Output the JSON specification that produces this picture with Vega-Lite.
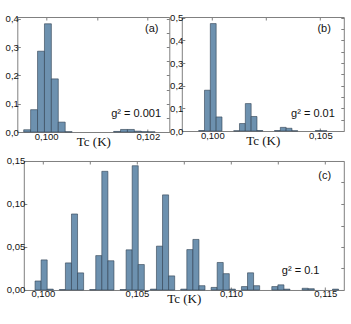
{
  "$schema": "https://vega.github.io/schema/vega-lite/v6.json",
  "padding": {"left": 4.3, "top": 12, "right": 2, "bottom": 2},
  "columns": 1,
  "align": "none",
  "config": {
    "view": {"stroke": "#808080", "strokeWidth": 1},
    "axis": {"domain": false, "grid": false, "tickColor": "#808080", "tickSize": -3, "labelFont": "Liberation Sans", "labelFontSize": 9.5, "labelColor": "#111", "labelPadding": 2, "titleFont": "Liberation Serif", "titleFontSize": 13, "titleFontWeight": "normal", "titleColor": "#111"},
    "text": {"font": "Liberation Sans", "fontSize": 11, "color": "#111"},
    "rect": {"fill": "#6d91af", "stroke": "#2f4050", "strokeWidth": 0.6}
  },
  "concat": [
    {
      "bounds": "flush",
      "spacing": 12.5,
      "hconcat": [
        {
          "width": 152, "height": 115,
          "resolve": {"axis": {"x": "independent", "y": "independent"}},
          "layer": [
            {
              "data": {"values": [
                {"x0": 0.09956, "x1": 0.099696, "f": 0.008},
                {"x0": 0.099696, "x1": 0.099832, "f": 0.079},
                {"x0": 0.099832, "x1": 0.099968, "f": 0.286},
                {"x0": 0.099968, "x1": 0.100104, "f": 0.383},
                {"x0": 0.100104, "x1": 0.10024, "f": 0.188},
                {"x0": 0.10024, "x1": 0.100376, "f": 0.035},
                {"x0": 0.100376, "x1": 0.100512, "f": 0.001},
                {"x0": 0.101328, "x1": 0.101464, "f": 0.002},
                {"x0": 0.101464, "x1": 0.1016, "f": 0.009},
                {"x0": 0.1016, "x1": 0.101736, "f": 0.009},
                {"x0": 0.101736, "x1": 0.101872, "f": 0.003},
                {"x0": 0.101872, "x1": 0.102008, "f": 0.001},
                {"x0": 0.102008, "x1": 0.102144, "f": 0.0005}
              ]},
              "mark": {"type": "rect"},
              "encoding": {
                "x": {"field": "x0", "type": "quantitative", "scale": {"domain": [0.099434, 0.102423], "nice": false, "zero": false},
                  "axis": {"orient": "bottom", "values": [0.1, 0.102], "labelExpr": "replace(format(datum.value, '.3f'), '.', ',')", "title": "Tc (K)", "titlePadding": -5.5}},
                "x2": {"field": "x1"},
                "y": {"field": "f", "type": "quantitative", "scale": {"domain": [0, 0.407], "nice": false},
                  "axis": {"orient": "left", "values": [0, 0.1, 0.2, 0.3, 0.4], "labelExpr": "replace(format(datum.value, '.1f'), '.', ',')", "title": null}},
                "y2": {"datum": 0}
              }
            },
            {
              "data": {"values": [
                {"x": 0.10221, "y": 0.364, "label": "(a)"},
                {"x": 0.10226, "y": 0.064, "label": "g² = 0.001"}
              ]},
              "mark": {"type": "text", "align": "right", "baseline": "middle"},
              "encoding": {
                "x": {"field": "x", "type": "quantitative", "axis": {"orient": "top", "labels": false, "title": null, "values": [0.1, 0.101, 0.102]}},
                "y": {"field": "y", "type": "quantitative", "axis": {"orient": "right", "labels": false, "title": null, "values": [0, 0.05, 0.1, 0.15, 0.2, 0.25, 0.3, 0.35, 0.4]}},
                "text": {"field": "label"}
              }
            }
          ]
        },
        {
          "width": 162, "height": 114,
          "resolve": {"axis": {"x": "independent", "y": "independent"}},
          "layer": [
            {
              "data": {"values": [
                {"x0": 0.099369, "x1": 0.099639, "f": 0.002},
                {"x0": 0.099639, "x1": 0.099909, "f": 0.18},
                {"x0": 0.099909, "x1": 0.100179, "f": 0.474},
                {"x0": 0.100179, "x1": 0.100449, "f": 0.062},
                {"x0": 0.100989, "x1": 0.101259, "f": 0.001},
                {"x0": 0.101259, "x1": 0.101529, "f": 0.033},
                {"x0": 0.101529, "x1": 0.101799, "f": 0.121},
                {"x0": 0.101799, "x1": 0.102069, "f": 0.064},
                {"x0": 0.102069, "x1": 0.102339, "f": 0.002},
                {"x0": 0.102879, "x1": 0.103149, "f": 0.002},
                {"x0": 0.103149, "x1": 0.103419, "f": 0.016},
                {"x0": 0.103419, "x1": 0.103689, "f": 0.012},
                {"x0": 0.103689, "x1": 0.103959, "f": 0.001},
                {"x0": 0.104769, "x1": 0.105039, "f": 0.002},
                {"x0": 0.105039, "x1": 0.105309, "f": 0.001}
              ]},
              "mark": {"type": "rect"},
              "encoding": {
                "x": {"field": "x0", "type": "quantitative", "scale": {"domain": [0.098588, 0.106088], "nice": false, "zero": false},
                  "axis": {"orient": "bottom", "values": [0.1, 0.105], "labelExpr": "replace(format(datum.value, '.3f'), '.', ',')", "title": "Tc (K)", "titlePadding": -5.5}},
                "x2": {"field": "x1"},
                "y": {"field": "f", "type": "quantitative", "scale": {"domain": [0, 0.503], "nice": false},
                  "axis": {"orient": "left", "values": [0, 0.1, 0.2, 0.3, 0.4, 0.5], "labelExpr": "replace(format(datum.value, '.1f'), '.', ',')", "title": null}},
                "y2": {"datum": 0}
              }
            },
            {
              "data": {"values": [
                {"x": 0.10549, "y": 0.45, "label": "(b)"},
                {"x": 0.10567, "y": 0.075, "label": "g² = 0.01"}
              ]},
              "mark": {"type": "text", "align": "right", "baseline": "middle"},
              "encoding": {
                "x": {"field": "x", "type": "quantitative", "axis": {"orient": "top", "labels": false, "title": null, "values": [0.1, 0.1025, 0.105]}},
                "y": {"field": "y", "type": "quantitative", "axis": {"orient": "right", "labels": false, "title": null, "values": [0, 0.05, 0.1, 0.15, 0.2, 0.25, 0.3, 0.35, 0.4, 0.45, 0.5]}},
                "text": {"field": "label"}
              }
            }
          ]
        }
      ]
    },
    {
      "bounds": "flush",
      "spacing": 5.5,
      "hconcat": [
        {
          "width": 1, "height": 129,
          "view": {"stroke": null},
          "data": {"values": [{}]},
          "mark": {"type": "rule", "opacity": 0},
          "encoding": {}
        },
        {
          "width": 320, "height": 129,
          "resolve": {"axis": {"x": "independent", "y": "independent"}},
          "layer": [
            {
              "data": {"values": [
                {"x0": 0.0995876, "x1": 0.09991, "f": 0.0105},
                {"x0": 0.09991, "x1": 0.1002324, "f": 0.035},
                {"x0": 0.1002324, "x1": 0.1005548, "f": 0.001},
                {"x0": 0.1008772, "x1": 0.1011996, "f": 0.0005},
                {"x0": 0.1011996, "x1": 0.101522, "f": 0.0315},
                {"x0": 0.101522, "x1": 0.1018444, "f": 0.0884},
                {"x0": 0.1018444, "x1": 0.1021668, "f": 0.0199},
                {"x0": 0.1024892, "x1": 0.1028116, "f": 0.0005},
                {"x0": 0.1028116, "x1": 0.103134, "f": 0.04},
                {"x0": 0.103134, "x1": 0.1034564, "f": 0.138},
                {"x0": 0.1034564, "x1": 0.1037788, "f": 0.034},
                {"x0": 0.1041012, "x1": 0.1044236, "f": 0.0005},
                {"x0": 0.1044236, "x1": 0.104746, "f": 0.0467},
                {"x0": 0.104746, "x1": 0.1050684, "f": 0.1445},
                {"x0": 0.1050684, "x1": 0.1053908, "f": 0.0296},
                {"x0": 0.1057132, "x1": 0.1060356, "f": 0.001},
                {"x0": 0.1060356, "x1": 0.106358, "f": 0.051},
                {"x0": 0.106358, "x1": 0.1066804, "f": 0.1106},
                {"x0": 0.1066804, "x1": 0.1070028, "f": 0.0164},
                {"x0": 0.1073252, "x1": 0.1076476, "f": 0.001},
                {"x0": 0.1076476, "x1": 0.10797, "f": 0.047},
                {"x0": 0.10797, "x1": 0.1082924, "f": 0.0588},
                {"x0": 0.1082924, "x1": 0.1086148, "f": 0.005},
                {"x0": 0.1089372, "x1": 0.1092596, "f": 0.003},
                {"x0": 0.1092596, "x1": 0.109582, "f": 0.032},
                {"x0": 0.109582, "x1": 0.1099044, "f": 0.019},
                {"x0": 0.1099044, "x1": 0.1102268, "f": 0.001},
                {"x0": 0.1105492, "x1": 0.1108716, "f": 0.004},
                {"x0": 0.1108716, "x1": 0.111194, "f": 0.02},
                {"x0": 0.111194, "x1": 0.1115164, "f": 0.005},
                {"x0": 0.1121612, "x1": 0.1124836, "f": 0.004},
                {"x0": 0.1124836, "x1": 0.112806, "f": 0.006},
                {"x0": 0.112806, "x1": 0.1131284, "f": 0.001},
                {"x0": 0.1137732, "x1": 0.1140956, "f": 0.002},
                {"x0": 0.1140956, "x1": 0.114418, "f": 0.0015},
                {"x0": 0.1153852, "x1": 0.1157076, "f": 0.001}
              ]},
              "mark": {"type": "rect"},
              "encoding": {
                "x": {"field": "x0", "type": "quantitative", "scale": {"domain": [0.09899, 0.115985], "nice": false, "zero": false},
                  "axis": {"orient": "bottom", "values": [0.1, 0.105, 0.11, 0.115], "labelExpr": "replace(format(datum.value, '.3f'), '.', ',')", "title": "Tc (K)", "titlePadding": -5.5}},
                "x2": {"field": "x1"},
                "y": {"field": "f", "type": "quantitative", "scale": {"domain": [0, 0.15], "nice": false},
                  "axis": {"orient": "left", "values": [0, 0.05, 0.1, 0.15], "labelExpr": "replace(format(datum.value, '.2f'), '.', ',')", "title": null}},
                "y2": {"datum": 0}
              }
            },
            {
              "data": {"values": [
                {"x": 0.11531, "y": 0.1326, "label": "(c)"},
                {"x": 0.11469, "y": 0.0216, "label": "g² = 0.1"}
              ]},
              "mark": {"type": "text", "align": "right", "baseline": "middle"},
              "encoding": {
                "x": {"field": "x", "type": "quantitative", "axis": {"orient": "top", "labels": false, "title": null, "values": [0.1, 0.1025, 0.105, 0.1075, 0.11, 0.1125, 0.115]}},
                "y": {"field": "y", "type": "quantitative", "axis": {"orient": "right", "labels": false, "title": null, "values": [0, 0.025, 0.05, 0.075, 0.1, 0.125, 0.15]}},
                "text": {"field": "label"}
              }
            }
          ]
        }
      ]
    }
  ],
  "spacing": 6
}
